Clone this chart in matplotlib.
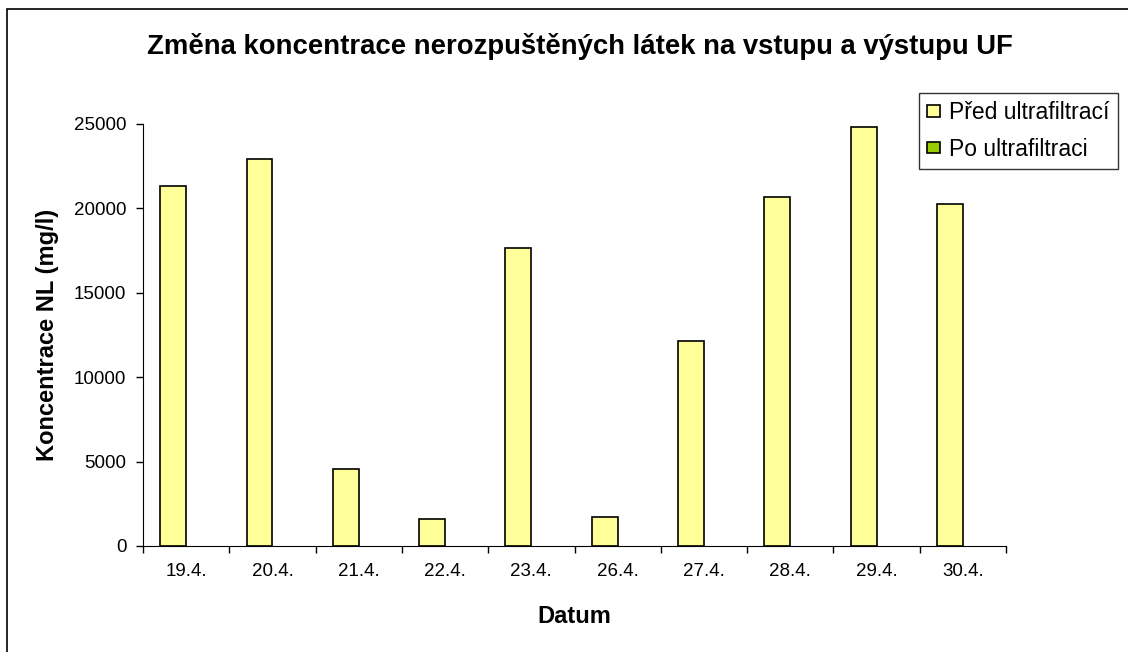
import matplotlib.pyplot as plt
import numpy as np
from matplotlib.patches import Rectangle, Patch

plt.rcParams['font.family'] = ['Liberation Sans', 'DejaVu Sans']

dates = ['19.4.', '20.4.', '21.4.', '22.4.', '23.4.', '26.4.', '27.4.', '28.4.', '29.4.', '30.4.']
pred = [21350, 22900, 4550, 1600, 17650, 1700, 12150, 20700, 24850, 20250]
po = [0, 0, 0, 0, 0, 0, 0, 0, 0, 0]

W, H = 1128, 652
fig = plt.figure(figsize=(W / 100, H / 100), dpi=100)
ax = fig.add_axes([143 / W, 1 - 546 / H, (1006 - 143) / W, (546 - 124) / H])

# outer chart border (cut off at right and bottom)
fig.patches.append(Rectangle((7 / W, -0.1), 1.2, 1 - 9 / H + 0.1, transform=fig.transFigure,
                             fill=False, edgecolor='black', linewidth=1.2))

x = np.arange(len(dates))
bw = 0.3
yellow, green = '#ffff99', '#99cc00'
ax.bar(x - bw / 2, pred, bw, color=yellow, edgecolor='black', linewidth=1.2)
ax.bar(x + bw / 2, po, bw, color=green, linewidth=0)

ax.set_xlim(-0.5, len(dates) - 0.5)
ax.set_ylim(0, 25000)
ax.set_yticks(np.arange(0, 25001, 5000))
ax.set_xticks(x)
ax.set_xticklabels(dates)
ax.set_xticks(np.arange(-0.5, len(dates), 1), minor=True)
ax.tick_params(axis='x', which='major', length=0, pad=12, labelsize=13.5)
ax.tick_params(axis='x', which='minor', length=5, width=1, direction='out')
ax.tick_params(axis='y', length=5, width=1, direction='out', labelsize=13.5, pad=7)
for s in ['top', 'right']:
    ax.spines[s].set_visible(False)

ax.set_xlabel('Datum', fontsize=17, fontweight='bold', labelpad=18)
ax.set_ylabel('Koncentrace NL (mg/l)', fontsize=17, fontweight='bold', labelpad=11)
fig.text(580 / W, 1 - 47 / H, 'Změna koncentrace nerozpuštěných látek na vstupu a výstupu UF',
         ha='center', va='center', fontsize=19.8, fontweight='bold')

handles = [Patch(facecolor=yellow, edgecolor='black', linewidth=1.2, label='Před ultrafiltrací'),
           Patch(facecolor=green, edgecolor='black', linewidth=1.2, label='Po ultrafiltraci')]
leg = fig.legend(handles=handles, loc='upper left', bbox_to_anchor=(919 / W, 1 - 93 / H),
                 fontsize=16.5, frameon=True, fancybox=False, edgecolor='black',
                 handlelength=0.55, handleheight=0.4, handletextpad=0.42, borderpad=0.35,
                 labelspacing=0.6, borderaxespad=0)
leg.get_frame().set_linewidth(1)

fig.savefig('out.png', dpi=100)
